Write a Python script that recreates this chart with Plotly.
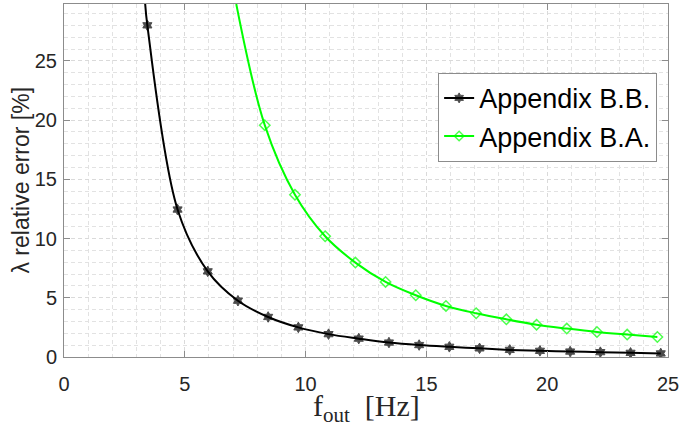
import plotly.graph_objects as go

# Appendix B.B. (black, star markers)
bb_x = [3.45, 4.70, 5.95, 7.20, 8.45, 9.70, 10.95, 12.20, 13.45, 14.70,
        15.95, 17.20, 18.45, 19.70, 20.95, 22.20, 23.45, 24.70]
bb_y = [28.0, 12.45, 7.23, 4.75, 3.38, 2.50, 1.93, 1.55, 1.22, 1.01,
        0.86, 0.73, 0.60, 0.52, 0.46, 0.41, 0.35, 0.30]
bb_curve_start = (3.36, 29.8)  # where the line leaves the top of the axes

# Appendix B.A. (green, diamond markers)
ba_x = [8.31, 9.56, 10.81, 12.06, 13.31, 14.56, 15.81, 17.06, 18.31, 19.56,
        20.81, 22.06, 23.31, 24.56]
ba_y = [19.57, 13.70, 10.19, 7.97, 6.34, 5.21, 4.31, 3.69, 3.18, 2.73,
        2.40, 2.11, 1.89, 1.69]
ba_curve_start = (7.13, 29.8)

x_ticks = [0, 5, 10, 15, 20, 25]
y_ticks = [0, 5, 10, 15, 20, 25]

fig = go.Figure()

def add_series(xs, ys, start, color, symbol, msize, name, mline):
    lx = [start[0]] + xs
    ly = [start[1]] + ys
    sizes = [0] + [msize] * len(xs)
    lws = [0] + [mline] * len(xs)
    fig.add_trace(go.Scatter(x=lx, y=ly, mode="lines+markers", name=name,
                             line=dict(color=color, width=2, shape="spline", smoothing=1.0),
                             marker=dict(symbol=symbol, size=sizes, color=color,
                                         line=dict(color=color, width=lws))))

add_series(bb_x, bb_y, bb_curve_start, "black", "hexagram", 8, "Appendix B.B.", 1)
add_series(ba_x, ba_y, ba_curve_start, "#00ff00", "diamond-open", 8, "Appendix B.A.", 1.5)

axis_common = dict(
    showline=True, linecolor="#8c8c8c", linewidth=1, mirror="ticks",
    ticks="inside", ticklen=6, tickcolor="#8c8c8c",
    showgrid=True, gridcolor="#dadada", griddash="4px,3px", gridwidth=1,
    zeroline=False, automargin=False,
    tickfont=dict(family="Liberation Sans, Arial", size=20, color="#262626"),
)
minor_common = dict(dtick=1, showgrid=True, gridcolor="#e2e2e2", griddash="4px,3px", gridwidth=1, ticks="")

fig.update_xaxes(range=[0, 25], tickvals=x_ticks, ticklabelstandoff=9, **axis_common, minor=minor_common)
fig.update_yaxes(range=[0, 29.8], tickvals=y_ticks, ticklabelstandoff=2, **axis_common, minor=minor_common)

fig.add_annotation(text="f<sub>out</sub>  [Hz]", xref="paper", yref="paper", x=0.5, y=-0.1445,
                   xanchor="center", yanchor="middle", showarrow=False,
                   font=dict(family="Liberation Serif, Times New Roman", size=30, color="#262626"))
fig.add_annotation(text="λ relative error [%]", xref="paper", yref="paper", x=-0.0728, y=0.5,
                   xanchor="center", yanchor="middle", showarrow=False, textangle=-90,
                   font=dict(family="Liberation Sans, Arial", size=23, color="#262626"))

fig.update_layout(
    width=680, height=426,
    margin=dict(l=64, r=12, t=4, b=69),
    paper_bgcolor="white", plot_bgcolor="white",
    legend=dict(x=0.982, y=0.805, xanchor="right", yanchor="top",
                bgcolor="white", bordercolor="#8c8c8c", borderwidth=1,
                font=dict(family="Liberation Sans, Arial", size=27, color="black"),
                itemwidth=30, tracegroupgap=0),
)

fig.write_html("out.html", config={"displayModeBar": False},
               post_script="document.body.style.margin='0';")
